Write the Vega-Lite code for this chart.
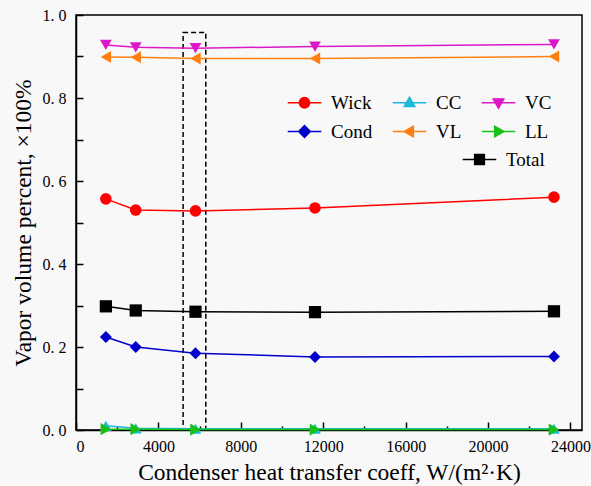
{
  "$schema": "https://vega.github.io/schema/vega-lite/v6.json",
  "width": 506,
  "height": 415,
  "autosize": {"type": "none"},
  "padding": {"left": 76, "top": 15, "right": 9, "bottom": 56},
  "background": "#f8f8f8",
  "config": {
    "font": "Liberation Serif",
    "view": {"stroke": "#000000", "strokeWidth": 1.5},
    "axis": {"grid": false, "domainColor": "#000000", "domainWidth": 1.5, "tickColor": "#000000", "tickWidth": 1.5, "labelColor": "#000000", "titleColor": "#000000", "labelFont": "Liberation Serif", "titleFont": "Liberation Serif", "titleFontWeight": "normal"},
    "legend": {"labelFont": "Liberation Serif", "labelFontSize": 19, "labelColor": "#000000", "padding": 0, "symbolOpacity": 1},
    "style": {"guide-label": {"font": "Liberation Serif"}, "guide-title": {"font": "Liberation Serif"}}
  },
  "datasets": {
    "series": [
      {"k": 1450, "v": 0.557, "s": "Wick"}, {"k": 2900, "v": 0.530, "s": "Wick"}, {"k": 5800, "v": 0.528, "s": "Wick"}, {"k": 11600, "v": 0.535, "s": "Wick"}, {"k": 23200, "v": 0.561, "s": "Wick"},
      {"k": 1450, "v": 0.010, "s": "CC"}, {"k": 2900, "v": 0.004, "s": "CC"}, {"k": 5800, "v": 0.003, "s": "CC"}, {"k": 11600, "v": 0.003, "s": "CC"}, {"k": 23200, "v": 0.003, "s": "CC"},
      {"k": 1450, "v": 0.928, "s": "VC"}, {"k": 2900, "v": 0.922, "s": "VC"}, {"k": 5800, "v": 0.920, "s": "VC"}, {"k": 11600, "v": 0.924, "s": "VC"}, {"k": 23200, "v": 0.929, "s": "VC"},
      {"k": 1450, "v": 0.224, "s": "Cond"}, {"k": 2900, "v": 0.200, "s": "Cond"}, {"k": 5800, "v": 0.185, "s": "Cond"}, {"k": 11600, "v": 0.176, "s": "Cond"}, {"k": 23200, "v": 0.177, "s": "Cond"},
      {"k": 1450, "v": 0.899, "s": "VL"}, {"k": 2900, "v": 0.898, "s": "VL"}, {"k": 5800, "v": 0.895, "s": "VL"}, {"k": 11600, "v": 0.895, "s": "VL"}, {"k": 23200, "v": 0.900, "s": "VL"},
      {"k": 1450, "v": 0.002, "s": "LL"}, {"k": 2900, "v": 0.002, "s": "LL"}, {"k": 5800, "v": 0.001, "s": "LL"}, {"k": 11600, "v": 0.001, "s": "LL"}, {"k": 23200, "v": 0.001, "s": "LL"},
      {"k": 1450, "v": 0.298, "s": "Total"}, {"k": 2900, "v": 0.288, "s": "Total"}, {"k": 5800, "v": 0.285, "s": "Total"}, {"k": 11600, "v": 0.284, "s": "Total"}, {"k": 23200, "v": 0.286, "s": "Total"}
    ],
    "box": [{"x1": 5200, "x2": 6300, "y1": 0, "y2": 0.958}]
  },
  "layer": [
    {
      "data": {"name": "box"},
      "mark": {"type": "rect", "fillOpacity": 0, "stroke": "#000000", "strokeWidth": 1.5, "strokeDash": [5, 3]},
      "encoding": {
        "x": {"field": "x1", "type": "quantitative", "scale": {"domain": [0, 24560], "nice": false, "zero": false},
          "axis": {"values": [0,2000,4000,6000,8000,10000,12000,14000,16000,18000,20000,22000,24000],
            "labelExpr": "datum.value % 4000 === 0 ? format(datum.value, 'd') : ''",
            "tickSize": {"condition": {"test": "datum.value % 4000 === 0", "value": -8}, "value": -4},
            "labelPadding": 16, "labelFontSize": 16, "labelAngle": 0, "labelFont": "Liberation Serif", "titleFont": "Liberation Serif",
            "title": "Condenser heat transfer coeff, W/(m²·K)", "titleFontSize": 23.5, "titlePadding": 6}},
        "x2": {"field": "x2"},
        "y": {"field": "y1", "type": "quantitative", "scale": {"domain": [0, 1], "nice": false},
          "axis": {"values": [0,0.1,0.2,0.3,0.4,0.5,0.6,0.7,0.8,0.9,1.0],
            "labelExpr": "(round(datum.value*10) % 2 === 0) ? replace(format(datum.value, '.1f'), '.', '. ') : ''",
            "tickSize": -7,
            "labelPadding": 17, "labelFontSize": 16, "labelFont": "Liberation Serif", "titleFont": "Liberation Serif",
            "title": "Vapor volume percent, ×100%", "titleFontSize": 23.5, "titlePadding": 7}},
        "y2": {"field": "y2"}
      }
    },
    {
      "data": {"name": "series"},
      "mark": {"type": "line", "strokeWidth": 1.5},
      "encoding": {
        "x": {"field": "k", "type": "quantitative"},
        "y": {"field": "v", "type": "quantitative"},
        "color": {"field": "s", "type": "nominal",
          "scale": {"domain": ["Wick", "CC", "VC", "Cond", "VL", "LL", "Total"], "range": ["#ff0000", "#1cb8dc", "#dd18c8", "#0000cc", "#ff8010", "#18c018", "#000000"]},
          "legend": null}
      }
    },
    {
      "data": {"name": "series"},
      "mark": {"type": "point", "filled": true, "opacity": 1},
      "encoding": {
        "x": {"field": "k", "type": "quantitative"},
        "y": {"field": "v", "type": "quantitative"},
        "color": {"field": "s", "type": "nominal", "legend": null},
        "size": {"field": "s", "type": "nominal",
          "scale": {"domain": ["Wick", "CC", "VC", "Cond", "VL", "LL", "Total"], "range": [135, 150, 150, 165, 150, 150, 115]},
          "legend": null},
        "shape": {"field": "s", "type": "nominal",
          "scale": {"domain": ["Wick", "CC", "VC", "Cond", "VL", "LL", "Total"], "range": ["circle", "triangle-up", "triangle-down", "diamond", "triangle-left", "triangle-right", "square"]},
          "legend": null}
      }
    },
    {
      "data": {"name": "series"},
      "transform": [{"filter": "datum.s !== 'Total'"}],
      "mark": {"type": "point", "filled": true, "opacity": 0, "size": 110, "strokeWidth": 1.3},
      "encoding": {
        "x": {"field": "k", "type": "quantitative"},
        "y": {"field": "v", "type": "quantitative"},
        "fill": {"field": "s", "type": "nominal",
          "scale": {"domain": ["Wick", "CC", "VC", "Cond", "VL", "LL", "Total"], "range": ["#ff0000", "#1cb8dc", "#dd18c8", "#0000cc", "#ff8010", "#18c018", "#000000"]},
          "legend": {"values": ["Wick", "CC", "VC", "Cond", "VL", "LL"], "orient": "none", "legendX": 219, "legendY": 78, "columns": 3, "direction": "horizontal", "symbolSize": 110, "symbolStrokeWidth": 1.3, "title": null, "columnPadding": 17, "rowPadding": 9, "labelOffset": 17, "labelLimit": 200, "labelFont": "Liberation Serif", "labelFontSize": 19}},
        "stroke": {"field": "s", "type": "nominal",
          "scale": {"domain": ["Wick", "CC", "VC", "Cond", "VL", "LL", "Total"], "range": ["#ff0000", "#1cb8dc", "#dd18c8", "#0000cc", "#ff8010", "#18c018", "#000000"]},
          "legend": {"values": ["Wick", "CC", "VC", "Cond", "VL", "LL"], "orient": "none", "legendX": 219, "legendY": 78, "columns": 3, "direction": "horizontal", "symbolSize": 110, "symbolStrokeWidth": 1.3, "title": null, "columnPadding": 17, "rowPadding": 9, "labelOffset": 17, "labelLimit": 200, "labelFont": "Liberation Serif", "labelFontSize": 19}},
        "shape": {"field": "s", "type": "nominal",
          "scale": {"domain": ["Wick", "CC", "VC", "Cond", "VL", "LL", "Total"], "range": [
            "M-3.2,0H3.2M1,0A1,1,0,1,1,-1,0A1,1,0,1,1,1,0Z",
            "M-3.2,0H3.2M0,-1.1L1.05,0.75L-1.05,0.75Z",
            "M-3.2,0H3.2M0,1.1L1.05,-0.75L-1.05,-0.75Z",
            "M-3.2,0H3.2M0,-1.15L1.15,0L0,1.15L-1.15,0Z",
            "M-3.2,0H3.2M-1.1,0L0.75,-1.05L0.75,1.05Z",
            "M-3.2,0H3.2M1.1,0L-0.75,-1.05L-0.75,1.05Z",
            "M-3.2,0H3.2M-0.95,-0.95H0.95V0.95H-0.95Z"]},
          "legend": {"values": ["Wick", "CC", "VC", "Cond", "VL", "LL"], "orient": "none", "legendX": 219, "legendY": 78, "columns": 3, "direction": "horizontal", "symbolSize": 110, "symbolStrokeWidth": 1.3, "title": null, "columnPadding": 17, "rowPadding": 9, "labelOffset": 17, "labelLimit": 200, "labelFont": "Liberation Serif", "labelFontSize": 19}}
      }
    },
    {
      "data": {"name": "series"},
      "transform": [{"filter": "datum.s === 'Total'"}],
      "mark": {"type": "point", "filled": true, "opacity": 0, "size": 110, "strokeWidth": 1.3},
      "encoding": {
        "x": {"field": "k", "type": "quantitative"},
        "y": {"field": "v", "type": "quantitative"},
        "fill": {"field": "s", "type": "nominal",
          "legend": {"values": ["Total"], "orient": "none", "legendX": 394, "legendY": 135, "symbolSize": 110, "symbolStrokeWidth": 1.3, "title": null, "labelOffset": 17, "labelLimit": 200, "labelFont": "Liberation Serif", "labelFontSize": 19}},
        "stroke": {"field": "s", "type": "nominal",
          "legend": {"values": ["Total"], "orient": "none", "legendX": 394, "legendY": 135, "symbolSize": 110, "symbolStrokeWidth": 1.3, "title": null, "labelOffset": 17, "labelLimit": 200, "labelFont": "Liberation Serif", "labelFontSize": 19}},
        "shape": {"field": "s", "type": "nominal",
          "scale": {"domain": ["Wick", "CC", "VC", "Cond", "VL", "LL", "Total"], "range": [
            "M-3.2,0H3.2M1,0A1,1,0,1,1,-1,0A1,1,0,1,1,1,0Z",
            "M-3.2,0H3.2M0,-1.1L1.05,0.75L-1.05,0.75Z",
            "M-3.2,0H3.2M0,1.1L1.05,-0.75L-1.05,-0.75Z",
            "M-3.2,0H3.2M0,-1.15L1.15,0L0,1.15L-1.15,0Z",
            "M-3.2,0H3.2M-1.1,0L0.75,-1.05L0.75,1.05Z",
            "M-3.2,0H3.2M1.1,0L-0.75,-1.05L-0.75,1.05Z",
            "M-3.2,0H3.2M-0.95,-0.95H0.95V0.95H-0.95Z"]},
          "legend": {"values": ["Total"], "orient": "none", "legendX": 394, "legendY": 135, "symbolSize": 110, "symbolStrokeWidth": 1.3, "title": null, "labelOffset": 17, "labelLimit": 200, "labelFont": "Liberation Serif", "labelFontSize": 19}}
      }
    }
  ],
  "resolve": {
    "scale": {"shape": "independent"},
    "legend": {"fill": "independent", "stroke": "independent", "shape": "independent"}
  }
}
